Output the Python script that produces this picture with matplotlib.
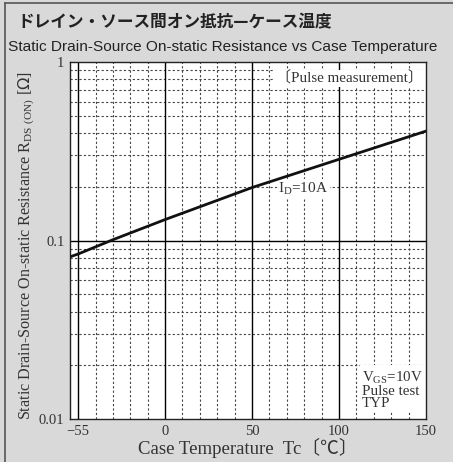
import matplotlib
matplotlib.use("Agg")
import matplotlib.pyplot as plt
import numpy as np
from matplotlib.lines import Line2D

# Data
temps = [-62, -55, -30, 0, 50, 100, 150]
rds_on = [0.081, 0.084, 0.101, 0.131, 0.198, 0.285, 0.41]
x_major = [-55, 0, 50, 100, 150]
x_major_labels = ["\u221255", "0", "50", "100", "150"]
x_minor = [-40, -30, -20, -10, 10, 20, 30, 40, 60, 70, 80, 90, 110, 120, 130, 140]
y_major = [0.01, 0.1, 1]
y_major_labels = ["0.01", "0.1", "1"]

W, H = 453, 462
fig = plt.figure(figsize=(W / 100, H / 100), dpi=100)
bg = "#d9d9d9"
fig.patch.set_facecolor(bg)

def fx(px):
    return px / W

def fy(py):
    return 1 - py / H

# outer frame lines
fig.add_artist(Line2D([fx(5), fx(5)], [fy(3), fy(462)], color="#555555", lw=1.2))
fig.add_artist(Line2D([fx(5), fx(453)], [fy(3), fy(3)], color="#555555", lw=1.2))

L, R, T, B = 70, 426, 62, 419
ax = fig.add_axes([fx(L), fy(B), fx(R) - fx(L), (B - T) / H])
ax.set_facecolor("white")

# datasheet axis: the -55 gridline sits where -50 would be
_d = [-70, -55, -40, 200]
_p = [-60, -50, -40, 200]
ax.set_xscale("function", functions=(lambda x: np.interp(x, _d, _p), lambda p: np.interp(p, _p, _d)))
ax.set_xlim(-62, 150)
ax.set_yscale("log")
ax.set_ylim(0.01, 1)

serif = "Liberation Serif"

# grid
for xv in x_minor:
    ax.axvline(xv, color="#444444", lw=0.8, ls=(0, (2, 2)), zorder=1)
for dec in [0.01, 0.1]:
    for m in range(2, 10):
        ax.axhline(dec * m, color="#444444", lw=0.8, ls=(0, (2, 2)), zorder=1)
for xv in [-55, 0, 50, 100]:
    ax.axvline(xv, color="black", lw=1.0, zorder=2)
ax.axhline(0.1, color="black", lw=1.0, zorder=2)

ax.plot(temps, rds_on, color="#111111", lw=2.0, zorder=5)

ax.set_xticks(x_major)
ax.set_xticklabels(x_major_labels, fontfamily=serif, fontsize=10.5, color="#333333")
ax.set_yticks(y_major)
ax.set_yticklabels(y_major_labels, fontfamily=serif, fontsize=10.5, color="#333333")
ax.minorticks_off()
ax.tick_params(length=0, pad=4)
for s in ax.spines.values():
    s.set_linewidth(1.0)
    s.set_color("#222222")

# annotations
ax.text(0.99, 0.955, "\u3014Pulse measurement\u3015", transform=ax.transAxes, ha="right", va="center",
        fontfamily=[serif, "Noto Sans CJK JP"], fontsize=10.8, color="#333333",
        bbox=dict(facecolor="white", edgecolor="none", pad=1), zorder=6)
ax.text(79.5, 0.194, r"I$_{\mathregular{D}}$=10A", ha="center", va="center", fontfamily=serif, fontsize=11,
        color="#333333", bbox=dict(facecolor="white", edgecolor="none", pad=1), zorder=4)
ax.text(113, 0.0113, r"V$_{\mathregular{GS}}$=10V" + "\nPulse test\nTYP", ha="left", va="bottom",
        fontfamily=serif, fontsize=10.8, color="#333333", linespacing=0.9,
        bbox=dict(facecolor="white", edgecolor="none", pad=1.5), zorder=6)

# titles
fig.text(fx(17), fy(22), "ドレイン・ソース間オン抵抗—ケース温度", fontfamily="Noto Sans CJK JP",
         fontweight="bold", fontsize=12, ha="left", va="center", color="#222222")
fig.text(fx(8), fy(47), "Static Drain-Source On-static Resistance vs Case Temperature",
         fontfamily="Liberation Sans", fontsize=11.1, ha="left", va="center",
         color="#222222")

fig.text(fx(248), fy(448), "Case Temperature  Tc\u3014\u2103\u3015", fontfamily=[serif, "Noto Sans CJK JP"],
         fontsize=13.5, ha="center", va="center", color="#333333")
fig.text(fx(27), fy(246), r"Static Drain-Source On-static Resistance R$_{\mathregular{DS\ (ON)}}$ [$\Omega$]",
         fontfamily=serif, fontsize=11.6, rotation=90, ha="center", va="center", color="#333333")

fig.savefig("out.png", dpi=100, facecolor=bg)
